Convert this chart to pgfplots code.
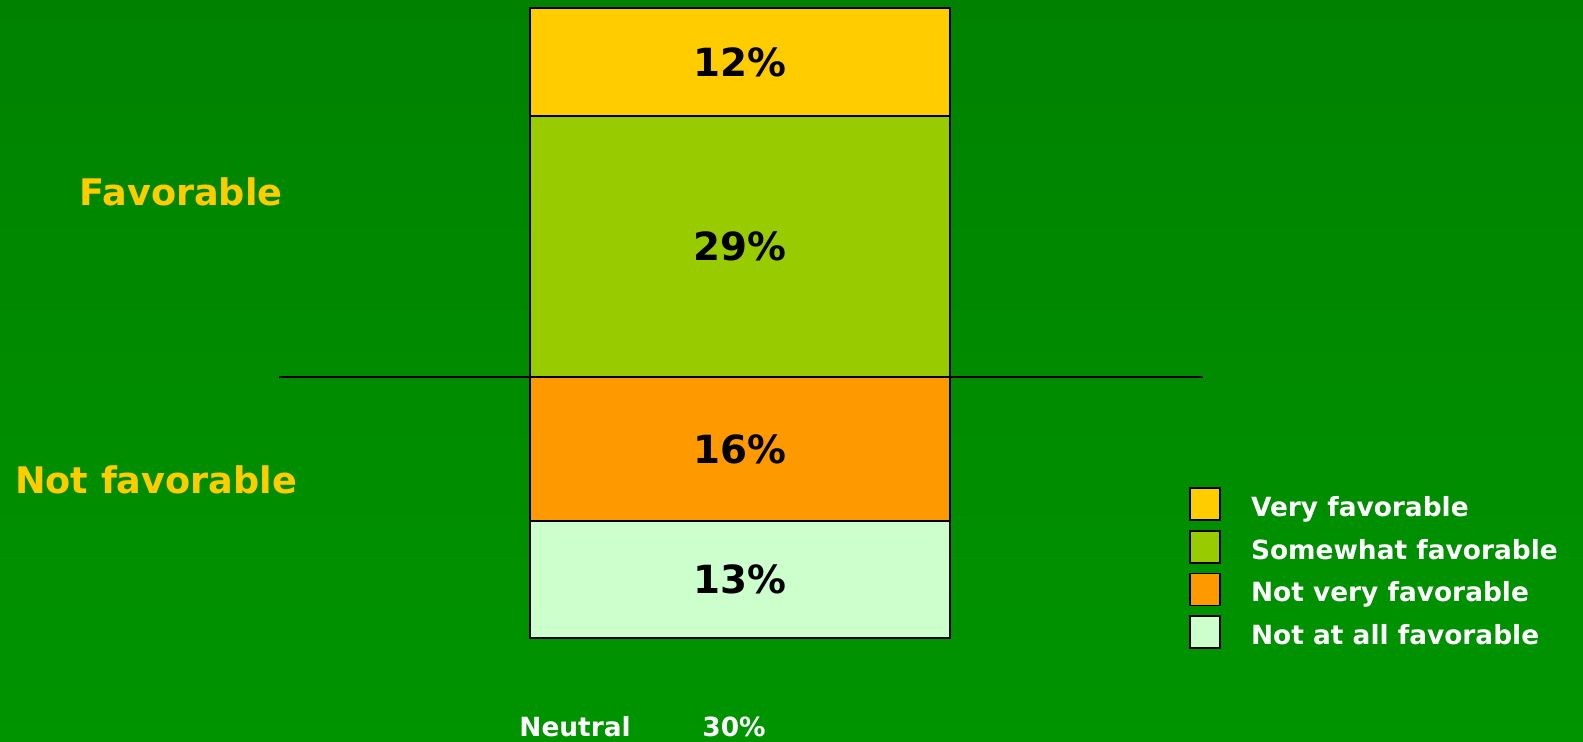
\documentclass[border=0pt]{standalone}
\usepackage{pgfplots}
\pgfplotsset{compat=1.18}
\usepackage{fontspec}
\setmainfont{DejaVu Sans}
\definecolor{bgtop}{RGB}{0,130,0}
\definecolor{bgbot}{RGB}{0,148,0}
\definecolor{veryfav}{RGB}{255,204,0}
\definecolor{somefav}{RGB}{153,204,0}
\definecolor{notvery}{RGB}{255,153,0}
\definecolor{notall}{RGB}{204,255,204}
\definecolor{labyellow}{RGB}{255,204,0}

\pgfplotsset{
  sq legend/.style={legend image code/.code={%
    \draw[##1,draw=black,line width=0.8pt] (0pt,-6pt) rectangle (15pt,10pt);}},
  base/.style={
    scale only axis,
    width=791.5pt, height=371pt,
    xmin=0, xmax=1583, ymin=-40.56, ymax=41.89,
    axis line style={draw=none},
    xtick=\empty, ytick=\empty,
    clip=false,
  },
  bars/.style={base, ybar stacked, bar width=210pt},
  seg/.style={fill=#1, draw=black, line width=0.65pt},
}

\begin{document}
\begin{tikzpicture}
% favorable side
\begin{axis}[
    bars,
    axis background/.style={top color=bgtop, bottom color=bgbot},
    legend style={at={(axis cs:1189,-12.22)}, anchor=north west,
        draw=none, fill=none, inner sep=0pt, column sep=15pt, row sep=4.5pt,
        font=\fontsize{13.2pt}{16pt}\selectfont\bfseries, text=white,
        nodes={inner sep=0pt}},
    legend cell align=left,
]
    \addlegendimage{sq legend, fill=veryfav}
    \addlegendentry{Very favorable}
    \addlegendimage{sq legend, fill=somefav}
    \addlegendentry{Somewhat favorable}
    \addlegendimage{sq legend, fill=notvery}
    \addlegendentry{Not very favorable}
    \addlegendimage{sq legend, fill=notall}
    \addlegendentry{Not at all favorable}

    \draw[black, line width=0.6pt] (axis cs:279,0) -- (axis cs:1203,0);

    \addplot[forget plot, seg=somefav] coordinates {(740,29)};
    \addplot[forget plot, seg=veryfav] coordinates {(740,12)};

    \node[anchor=base, inner sep=0pt, text=labyellow,
      font=\fontsize{18.3pt}{22pt}\selectfont\bfseries] at (axis cs:181,19.0) {Favorable};
    \node[anchor=base, inner sep=0pt, text=labyellow,
      font=\fontsize{18.3pt}{22pt}\selectfont\bfseries] at (axis cs:156,-13.0) {Not favorable};
    \node[anchor=base west, inner sep=0pt, text=white,
      font=\fontsize{13.2pt}{16pt}\selectfont\bfseries] at (axis cs:519,-39.9) {Neutral};
    \node[anchor=base west, inner sep=0pt, text=white,
      font=\fontsize{13.2pt}{16pt}\selectfont\bfseries] at (axis cs:702,-39.9) {30\%};
\end{axis}
% not favorable side
\begin{axis}[bars]
    \addplot[seg=notvery] coordinates {(740,-16)};
    \addplot[seg=notall] coordinates {(740,-13)};
\end{axis}
% value labels, centred in each segment
\begin{axis}[base]
    \addplot[draw=none, mark=none, point meta=explicit symbolic,
      nodes near coords,
      every node near coord/.style={anchor=center, text=black, inner sep=0pt,
        font=\fontsize{19.4pt}{23pt}\selectfont\bfseries}]
      coordinates {(740,35) [12\%] (740,14.5) [29\%] (740,-8) [16\%] (740,-22.5) [13\%]};
\end{axis}
\pgfresetboundingbox
\path[use as bounding box] (current axis.south west) rectangle (current axis.north east);
\end{tikzpicture}
\end{document}
